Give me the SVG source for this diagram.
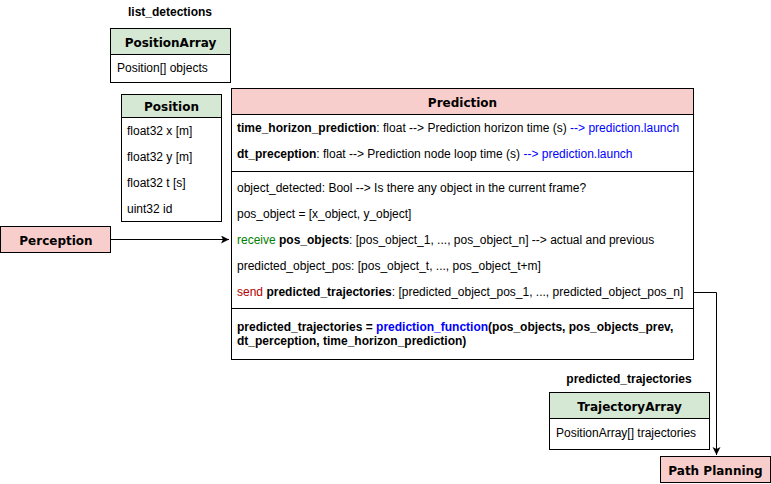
<svg xmlns="http://www.w3.org/2000/svg" width="771" height="484" viewBox="0 0 771 484">
<defs>
<style>
.box{stroke:#000;stroke-width:1}
.pink{fill:#f8cecc}
.green{fill:#d5e8d4}
.white{fill:#fff}
.title{font-family:"DejaVu Sans",sans-serif;font-weight:bold;font-size:12px;fill:#000;text-anchor:middle}
.t{font-family:"Liberation Sans",Arial,sans-serif;font-size:12px;fill:#000}
.b{font-weight:bold}
.lbl{font-family:"Liberation Sans",Arial,sans-serif;font-size:12px;font-weight:bold;fill:#000;text-anchor:middle}
.blue{fill:#0000ff}
.grn{fill:#008000}
.red{fill:#b20000}
.conn{fill:none;stroke:#000;stroke-width:1}
</style>
<marker id="arr" markerWidth="10" markerHeight="10" refX="8" refY="4" orient="auto" markerUnits="userSpaceOnUse">
<path d="M0,0 L8,4 L0,8 L2,4 Z" fill="#000"/>
</marker>
</defs>

<g id="connectors">
<path class="conn" d="M111,239.5 L229,239.5" marker-end="url(#arr)"/>
<path class="conn" d="M693,292.5 L716.5,292.5 L716.5,455" marker-end="url(#arr)"/>
</g>

<g id="label-list-detections">
<text class="lbl" x="170" y="16">list_detections</text>
</g>

<g id="positionarray">
<rect class="box green" x="110.5" y="28.5" width="120" height="26"/>
<rect class="box white" x="110.5" y="54.5" width="120" height="28"/>
<text class="title" x="170.5" y="47">PositionArray</text>
<text class="t" x="117" y="72">Position[] objects</text>
</g>

<g id="position">
<rect class="box green" x="121.5" y="94.5" width="100" height="23"/>
<rect class="box white" x="121.5" y="117.5" width="100" height="104"/>
<text class="title" x="171.5" y="111">Position</text>
<text class="t" x="127" y="135">float32 x [m]</text>
<text class="t" x="127" y="161">float32 y [m]</text>
<text class="t" x="127" y="187">float32 t [s]</text>
<text class="t" x="127" y="213">uint32 id</text>
</g>

<g id="perception">
<rect class="box pink" x="0.5" y="226.5" width="110" height="26"/>
<text class="title" x="56" y="245">Perception</text>
</g>

<g id="prediction">
<rect class="box pink" x="231.5" y="88.5" width="462" height="26"/>
<rect class="box white" x="231.5" y="114.5" width="462" height="245"/>
<line class="box" x1="231.5" y1="171.5" x2="693.5" y2="171.5"/>
<line class="box" x1="231.5" y1="308.5" x2="693.5" y2="308.5"/>
<text class="title" x="462.5" y="107">Prediction</text>
<text class="t" x="237" y="132"><tspan class="b">time_horizon_prediction</tspan>: float --&gt; Prediction horizon time (s) <tspan class="blue">--&gt; prediction.launch</tspan></text>
<text class="t" x="237" y="158"><tspan class="b">dt_preception</tspan>: float --&gt; Prediction node loop time (s) <tspan class="blue">--&gt; prediction.launch</tspan></text>
<text class="t" x="237" y="192">object_detected: Bool --&gt; Is there any object in the current frame?</text>
<text class="t" x="237" y="218">pos_object = [x_object, y_object]</text>
<text class="t" x="237" y="244"><tspan class="grn">receive</tspan> <tspan class="b">pos_objects</tspan>: [pos_object_1, ..., pos_object_n] --&gt; actual and previous</text>
<text class="t" x="237" y="270">predicted_object_pos: [pos_object_t, ..., pos_object_t+m]</text>
<text class="t" x="237" y="296"><tspan class="red">send</tspan> <tspan class="b">predicted_trajectories</tspan>: [predicted_object_pos_1, ..., predicted_object_pos_n]</text>
<text class="t b" x="237" y="331">predicted_trajectories = <tspan class="blue">prediction_function</tspan>(pos_objects, pos_objects_prev,</text>
<text class="t b" x="237" y="345">dt_perception, time_horizon_prediction)</text>
</g>

<g id="label-predicted-trajectories">
<text class="lbl" x="629" y="383">predicted_trajectories</text>
</g>

<g id="trajectoryarray">
<rect class="box green" x="549.5" y="392.5" width="160" height="26"/>
<rect class="box white" x="549.5" y="418.5" width="160" height="31"/>
<text class="title" x="629.5" y="411">TrajectoryArray</text>
<text class="t" x="556" y="437">PositionArray[] trajectories</text>
</g>

<g id="path-planning">
<rect class="box pink" x="660.5" y="456.5" width="110" height="26"/>
<text class="title" x="715.5" y="475">Path Planning</text>
</g>
</svg>
